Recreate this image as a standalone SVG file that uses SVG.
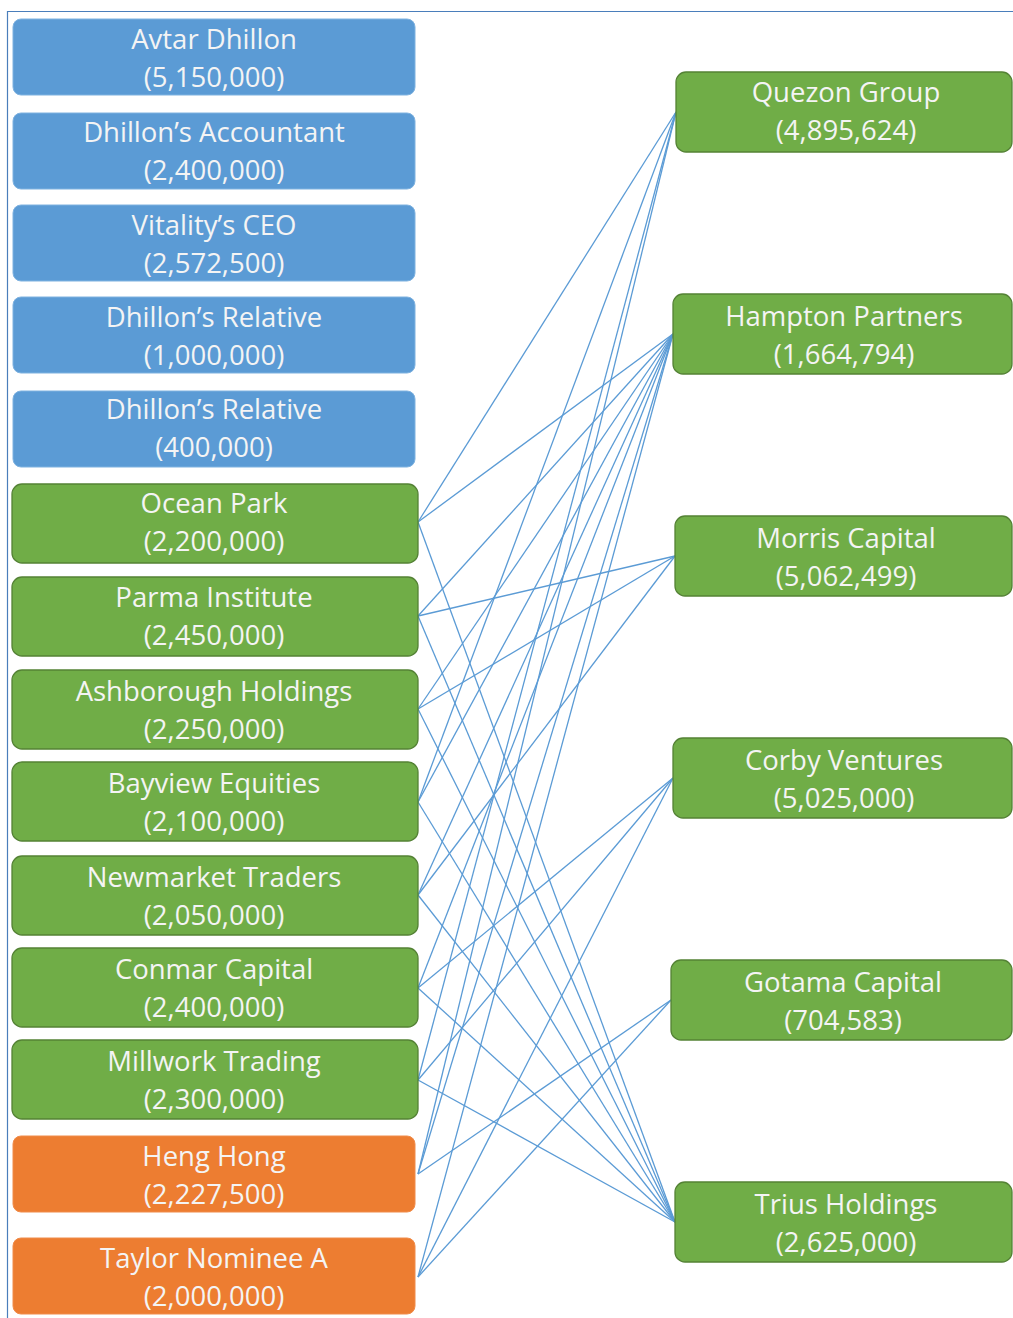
<svg xmlns="http://www.w3.org/2000/svg" width="1013" height="1318" viewBox="0 0 1013 1318">
<style>
.blue{fill:#5b9bd5;stroke:#7fb2e0;stroke-width:1}
.green{fill:#70ad47;stroke:#548235;stroke-width:1.3}
.orange{fill:#ed7d31;stroke:#f08c4a;stroke-width:1}
.t{font-family:"Open Sans","Liberation Sans",sans-serif;font-size:27.5px;fill:#f4f4f4;text-anchor:middle}
.c{stroke:#5b9bd5;stroke-width:1.3;fill:none}
.frame{stroke:#4a7ebb;stroke-width:1.2;fill:none}
</style>
<rect width="1013" height="1318" fill="#ffffff"/>
<path class="frame" d="M7.5,1318 V11.5 H1013"/>
<g id="connectors">
<!-- Ocean Park -->
<line class="c" x1="418" y1="522" x2="676" y2="112"/>
<line class="c" x1="418" y1="522" x2="673" y2="334"/>
<line class="c" x1="418" y1="522" x2="675" y2="1222"/>
<!-- Parma -->
<line class="c" x1="418" y1="616" x2="673" y2="334"/>
<line class="c" x1="418" y1="616" x2="675" y2="556"/>
<line class="c" x1="418" y1="616" x2="675" y2="1222"/>
<!-- Ashborough -->
<line class="c" x1="418" y1="709" x2="673" y2="334"/>
<line class="c" x1="418" y1="709" x2="675" y2="556"/>
<line class="c" x1="418" y1="709" x2="675" y2="1222"/>
<!-- Bayview -->
<line class="c" x1="418" y1="802" x2="676" y2="112"/>
<line class="c" x1="418" y1="802" x2="673" y2="334"/>
<line class="c" x1="418" y1="802" x2="675" y2="1222"/>
<!-- Newmarket -->
<line class="c" x1="418" y1="895" x2="673" y2="334"/>
<line class="c" x1="418" y1="895" x2="675" y2="556"/>
<line class="c" x1="418" y1="895" x2="675" y2="1222"/>
<!-- Conmar -->
<line class="c" x1="418" y1="988" x2="673" y2="334"/>
<line class="c" x1="418" y1="988" x2="673" y2="778"/>
<line class="c" x1="418" y1="988" x2="675" y2="1222"/>
<!-- Millwork -->
<line class="c" x1="418" y1="1080" x2="676" y2="112"/>
<line class="c" x1="418" y1="1080" x2="673" y2="778"/>
<line class="c" x1="418" y1="1080" x2="675" y2="1222"/>
<!-- Heng Hong -->
<line class="c" x1="418" y1="1174" x2="676" y2="112"/>
<line class="c" x1="418" y1="1174" x2="673" y2="334"/>
<line class="c" x1="418" y1="1174" x2="671" y2="1000"/>
<!-- Taylor Nominee A -->
<line class="c" x1="418" y1="1277" x2="673" y2="334"/>
<line class="c" x1="418" y1="1277" x2="673" y2="778"/>
<line class="c" x1="418" y1="1277" x2="671" y2="1000"/>
</g>
<g id="avtar-dhillon"><rect class="blue" x="13" y="19" width="402" height="76" rx="8"/><text class="t" x="214" y="49">Avtar Dhillon</text><text class="t" x="214" y="87">(5,150,000)</text></g>
<g id="dhillons-accountant"><rect class="blue" x="13" y="113" width="402" height="76" rx="8"/><text class="t" x="214" y="142">Dhillon’s Accountant</text><text class="t" x="214" y="180">(2,400,000)</text></g>
<g id="vitalitys-ceo"><rect class="blue" x="13" y="205" width="402" height="76" rx="8"/><text class="t" x="214" y="235">Vitality’s CEO</text><text class="t" x="214" y="273">(2,572,500)</text></g>
<g id="dhillons-relative-1"><rect class="blue" x="13" y="297" width="402" height="76" rx="8"/><text class="t" x="214" y="327">Dhillon’s Relative</text><text class="t" x="214" y="365">(1,000,000)</text></g>
<g id="dhillons-relative-2"><rect class="blue" x="13" y="391" width="402" height="76" rx="8"/><text class="t" x="214" y="419">Dhillon’s Relative</text><text class="t" x="214" y="457">(400,000)</text></g>
<g id="ocean-park"><rect class="green" x="12" y="484" width="406" height="79" rx="10"/><text class="t" x="214" y="513">Ocean Park</text><text class="t" x="214" y="551">(2,200,000)</text></g>
<g id="parma-institute"><rect class="green" x="12" y="577" width="406" height="79" rx="10"/><text class="t" x="214" y="607">Parma Institute</text><text class="t" x="214" y="645">(2,450,000)</text></g>
<g id="ashborough-holdings"><rect class="green" x="12" y="670" width="406" height="79" rx="10"/><text class="t" x="214" y="701">Ashborough Holdings</text><text class="t" x="214" y="739">(2,250,000)</text></g>
<g id="bayview-equities"><rect class="green" x="12" y="762" width="406" height="79" rx="10"/><text class="t" x="214" y="793">Bayview Equities</text><text class="t" x="214" y="831">(2,100,000)</text></g>
<g id="newmarket-traders"><rect class="green" x="12" y="856" width="406" height="79" rx="10"/><text class="t" x="214" y="887">Newmarket Traders</text><text class="t" x="214" y="925">(2,050,000)</text></g>
<g id="conmar-capital"><rect class="green" x="12" y="948" width="406" height="79" rx="10"/><text class="t" x="214" y="979">Conmar Capital</text><text class="t" x="214" y="1017">(2,400,000)</text></g>
<g id="millwork-trading"><rect class="green" x="12" y="1040" width="406" height="79" rx="10"/><text class="t" x="214" y="1071">Millwork Trading</text><text class="t" x="214" y="1109">(2,300,000)</text></g>
<g id="heng-hong"><rect class="orange" x="13" y="1136" width="402" height="76" rx="8"/><text class="t" x="214" y="1166">Heng Hong</text><text class="t" x="214" y="1204">(2,227,500)</text></g>
<g id="taylor-nominee-a"><rect class="orange" x="13" y="1238" width="402" height="76" rx="8"/><text class="t" x="214" y="1268">Taylor Nominee A</text><text class="t" x="214" y="1306">(2,000,000)</text></g>
<g id="quezon-group"><rect class="green" x="676" y="72" width="336" height="80" rx="10"/><text class="t" x="846" y="102">Quezon Group</text><text class="t" x="846" y="140">(4,895,624)</text></g>
<g id="hampton-partners"><rect class="green" x="673" y="294" width="339" height="80" rx="10"/><text class="t" x="844" y="326">Hampton Partners</text><text class="t" x="844" y="364">(1,664,794)</text></g>
<g id="morris-capital"><rect class="green" x="675" y="516" width="337" height="80" rx="10"/><text class="t" x="846" y="548">Morris Capital</text><text class="t" x="846" y="586">(5,062,499)</text></g>
<g id="corby-ventures"><rect class="green" x="673" y="738" width="339" height="80" rx="10"/><text class="t" x="844" y="770">Corby Ventures</text><text class="t" x="844" y="808">(5,025,000)</text></g>
<g id="gotama-capital"><rect class="green" x="671" y="960" width="341" height="80" rx="10"/><text class="t" x="843" y="992">Gotama Capital</text><text class="t" x="843" y="1030">(704,583)</text></g>
<g id="trius-holdings"><rect class="green" x="675" y="1182" width="337" height="80" rx="10"/><text class="t" x="846" y="1214">Trius Holdings</text><text class="t" x="846" y="1252">(2,625,000)</text></g>
</svg>
